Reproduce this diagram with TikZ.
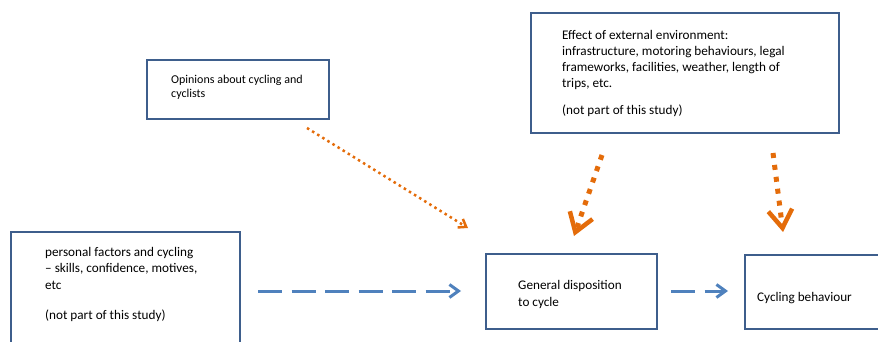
\documentclass[tikz,border=0pt]{standalone}
\usepackage{fontspec}
\setmainfont{Carlito}
\usetikzlibrary{arrows.meta,positioning}
\definecolor{boxblue}{RGB}{62,94,140}
\definecolor{arrblue}{RGB}{79,129,189}
\definecolor{arrorange}{RGB}{228,108,10}
\begin{document}
\begin{tikzpicture}[x=1pt, y=-1pt,
    box/.style={draw=boxblue, line width=2pt, anchor=north west, inner sep=0pt},
    txt/.style={anchor=base west, align=left, inner sep=0pt, font=\fontsize{13.2}{16.2}\selectfont},
    bluedash/.style={draw=arrblue, line width=3pt, dash pattern=on 24pt off 9.5pt,
        -{Straight Barb[length=9pt, width=13pt]}},
    thinorange/.style={draw=arrorange, line width=2.5pt, dash pattern=on 2.5pt off 3.5pt,
        -{Straight Barb[length=7pt, width=10pt]}},
    thickorange/.style={draw=arrorange, line width=5pt, dash pattern=on 5pt off 7pt,
        -{Straight Barb[length=18pt, width=24pt, line width=4.5pt]}}]
\useasboundingbox (0,0) rectangle (878,342);
\node[box, minimum width=182, minimum height=59] (opbox) at (146,59) {};
\node[box, minimum width=308, minimum height=120] (envbox) at (530,12) {};
\node[box, minimum width=229, minimum height=130] (persbox) at (10,231) {};
\node[box, minimum width=171, minimum height=75] (dispbox) at (485,253) {};
\node[box, minimum width=150, minimum height=74] (behbox) at (744,254) {};
\node[txt, font=\fontsize{12}{14.5}\selectfont] (optxt) at (171,98) {Opinions about cycling and\\cyclists};
\node[txt] (envtxt) at (562,115) {Effect of external environment:\\
    infrastructure, motoring behaviours, legal\\
    frameworks, facilities, weather, length of\\
    trips, etc.\\[10.8pt]
    (not part of this study)};
\node[txt] (perstxt) at (45,319) {personal factors and cycling\\
    -- skills, confidence, motives,\\
    etc\\[13.8pt]
    (not part of this study)};
\node[txt] (disptxt) at (518,306) {General disposition\\to cycle};
\node[txt] (behtxt) at (757,301) {Cycling behaviour};
\coordinate (persout) at (258,291);
\coordinate (dispin) at (461,291);
\coordinate (dispout) at (671,291);
\coordinate (behin) at (728,291);
\coordinate (opout) at (307,128);
\coordinate (opin) at (468,228);
\coordinate (envleft) at (602,155);
\coordinate (envleftin) at (574,236);
\coordinate (envright) at (773,153);
\coordinate (envrightin) at (783,232);
\draw[bluedash] (persout) -- (dispin);
\draw[bluedash] (dispout) -- (behin);
\draw[thinorange] (opout) -- (opin);
\draw[thickorange] (envleft) -- (envleftin);
\draw[thickorange] (envright) -- (envrightin);
\end{tikzpicture}
\end{document}
